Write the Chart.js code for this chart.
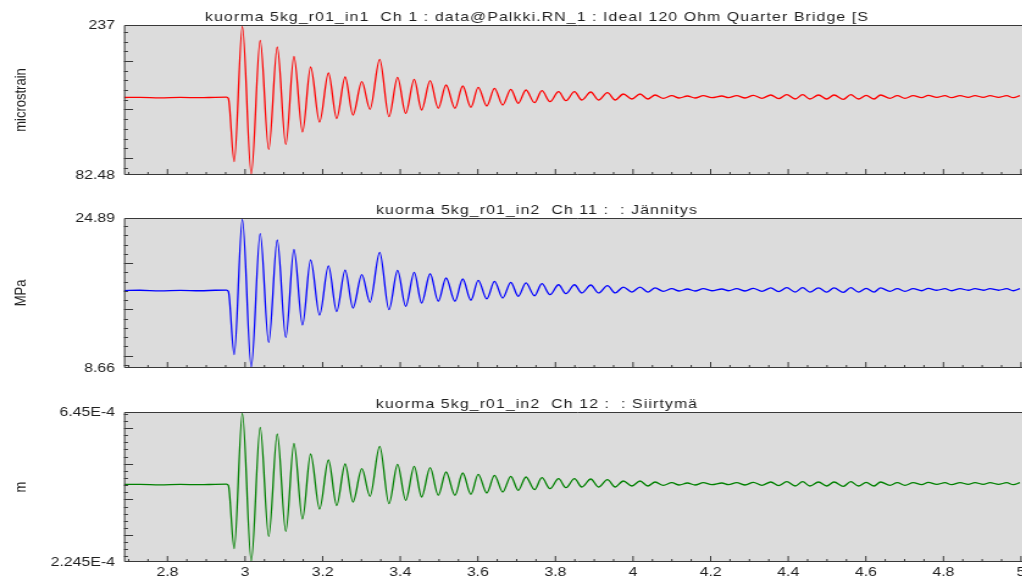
<!DOCTYPE html>
<html>
<head>
<meta charset="utf-8">
<script src="https://cdn.jsdelivr.net/npm/chart.js@4.4.1/dist/chart.umd.min.js"></script>
<style>
  html, body { margin: 0; padding: 0; background: #fff; width: 1022px; height: 580px; overflow: hidden; }
  .panel { position: absolute; left: 0; height: 193px; }
  .panel canvas { transform: scaleX(1.22); transform-origin: 0 0; }
</style>
</head>
<body>
<div class="panel" style="top:0px"><canvas id="c1" width="845" height="193"></canvas></div>
<div class="panel" style="top:193px"><canvas id="c2" width="845" height="193"></canvas></div>
<div class="panel" style="top:387px"><canvas id="c3" width="845" height="193"></canvas></div>
<script>
// time (s): quiet baseline, then one point per peak / trough
const time = [
  2.688, 2.729, 2.781, 2.833, 2.884, 2.923, 2.952, 2.957,
  2.972, 2.993, 3.016, 3.039, 3.061, 3.083, 3.105, 3.126, 3.148, 3.169,
  3.192, 3.215, 3.236, 3.258, 3.278, 3.301, 3.322, 3.347, 3.371, 3.393,
  3.414, 3.436, 3.455, 3.477, 3.498, 3.518, 3.541, 3.561, 3.582, 3.601,
  3.623, 3.643, 3.664, 3.685, 3.704, 3.724, 3.746, 3.765, 3.786, 3.808,
  3.827, 3.849, 3.868, 3.891, 3.911, 3.934, 3.954, 3.975, 3.997, 4.018,
  4.038, 4.057, 4.078, 4.100, 4.119, 4.140, 4.160, 4.181, 4.203, 4.229,
  4.246, 4.267, 4.289, 4.310, 4.332, 4.355, 4.375, 4.396, 4.418, 4.437,
  4.456, 4.478, 4.499, 4.518, 4.542, 4.561, 4.581, 4.601, 4.621, 4.638,
  4.662, 4.681, 4.701, 4.722, 4.744, 4.761, 4.783, 4.804, 4.821, 4.843,
  4.864, 4.881, 4.903, 4.920, 4.942, 4.963, 4.980, 4.997
];

// Ch 1, microstrain
const strain = [
  162.32, 162.52, 162.01, 162.42, 162.11, 162.52, 162.62, 161.29,
  96.18, 235.45, 83.51, 221.03, 108.75, 214.34, 113.90, 204.55, 126.78, 193.73,
  137.08, 187.55, 140.68, 183.43, 144.29, 178.59, 150.16, 201.67, 142.54, 183.12,
  146.04, 181.06, 149.44, 179.62, 151.19, 175.19, 151.19, 174.16, 152.22, 172.82,
  153.56, 171.79, 154.59, 170.76, 156.34, 170.04, 156.96, 169.32, 157.99, 168.29,
  159.02, 168.29, 159.74, 167.98, 159.74, 167.26, 159.74, 165.92, 160.77, 165.92,
  160.77, 164.89, 161.49, 164.17, 161.80, 163.86, 161.80, 164.17, 162.11, 163.86,
  162.11, 164.17, 161.80, 164.58, 161.49, 164.89, 161.08, 165.20, 160.77, 165.20,
  160.77, 164.89, 160.77, 164.89, 160.46, 165.20, 160.77, 164.58, 160.77, 164.89,
  161.49, 164.17, 161.49, 164.17, 162.11, 164.58, 162.52, 164.17, 162.11, 164.17,
  162.52, 164.17, 162.52, 164.17, 162.52, 164.17, 162.11, 164.17
];

// Ch 11, Jännitys (MPa)
const stress = [
  17.04, 17.07, 17.01, 17.06, 17.02, 17.07, 17.08, 16.94,
  10.10, 24.73, 8.77, 23.21, 11.42, 22.51, 11.96, 21.48, 13.31, 20.35,
  14.39, 19.70, 14.77, 19.26, 15.15, 18.76, 15.77, 21.18, 14.97, 19.23,
  15.34, 19.01, 15.69, 18.86, 15.88, 18.40, 15.88, 18.29, 15.99, 18.15,
  16.13, 18.04, 16.23, 17.93, 16.42, 17.86, 16.48, 17.78, 16.59, 17.67,
  16.70, 17.67, 16.78, 17.64, 16.78, 17.57, 16.78, 17.42, 16.88, 17.42,
  16.88, 17.32, 16.96, 17.24, 16.99, 17.21, 16.99, 17.24, 17.02, 17.21,
  17.02, 17.24, 16.99, 17.28, 16.96, 17.32, 16.92, 17.35, 16.88, 17.35,
  16.88, 17.32, 16.88, 17.32, 16.85, 17.35, 16.88, 17.28, 16.88, 17.32,
  16.96, 17.24, 16.96, 17.24, 17.02, 17.28, 17.07, 17.24, 17.02, 17.24,
  17.07, 17.24, 17.07, 17.24, 17.07, 17.24, 17.02, 17.24
];

// Ch 12, Siirtymä (m)
const displacement = [
  4.418e-4, 4.423e-4, 4.409e-4, 4.420e-4, 4.412e-4, 4.423e-4, 4.426e-4, 4.390e-4,
  2.618e-4, 6.408e-4, 2.273e-4, 6.016e-4, 2.960e-4, 5.833e-4, 3.100e-4, 5.567e-4, 3.451e-4, 5.273e-4,
  3.731e-4, 5.104e-4, 3.829e-4, 4.992e-4, 3.927e-4, 4.861e-4, 4.087e-4, 5.489e-4, 3.879e-4, 4.984e-4,
  3.975e-4, 4.928e-4, 4.067e-4, 4.889e-4, 4.115e-4, 4.768e-4, 4.115e-4, 4.740e-4, 4.143e-4, 4.704e-4,
  4.179e-4, 4.676e-4, 4.207e-4, 4.648e-4, 4.255e-4, 4.628e-4, 4.272e-4, 4.608e-4, 4.300e-4, 4.580e-4,
  4.328e-4, 4.580e-4, 4.348e-4, 4.572e-4, 4.348e-4, 4.552e-4, 4.348e-4, 4.516e-4, 4.376e-4, 4.516e-4,
  4.376e-4, 4.488e-4, 4.395e-4, 4.468e-4, 4.404e-4, 4.460e-4, 4.404e-4, 4.468e-4, 4.412e-4, 4.460e-4,
  4.412e-4, 4.468e-4, 4.404e-4, 4.479e-4, 4.395e-4, 4.488e-4, 4.384e-4, 4.496e-4, 4.376e-4, 4.496e-4,
  4.376e-4, 4.488e-4, 4.376e-4, 4.488e-4, 4.367e-4, 4.496e-4, 4.376e-4, 4.479e-4, 4.376e-4, 4.488e-4,
  4.395e-4, 4.468e-4, 4.395e-4, 4.468e-4, 4.412e-4, 4.479e-4, 4.423e-4, 4.468e-4, 4.412e-4, 4.468e-4,
  4.423e-4, 4.468e-4, 4.423e-4, 4.468e-4, 4.423e-4, 4.468e-4, 4.412e-4, 4.468e-4
];

const xRange = [2.688, 5];
const xTicks = [2.8, 3, 3.2, 3.4, 3.6, 3.8, 4, 4.2, 4.4, 4.6, 4.8, 5];

const titles = [
  'kuorma 5kg_r01_in1  Ch 1 : data@Palkki.RN_1 : Ideal 120 Ohm Quarter Bridge [S',
  'kuorma 5kg_r01_in2  Ch 11 :  : Jännitys',
  'kuorma 5kg_r01_in2  Ch 12 :  : Siirtymä'
];
const units = ['microstrain', 'MPa', 'm'];
const yRanges = [[82.48, 237], [8.66, 24.89], [2.245e-4, 6.45e-4]];
const yLabels = [['82.48', '237'], ['8.66', '24.89'], ['2.245E-4', '6.45E-4']];
const yTickSteps = [[10, 50], [1, 5], [2e-5, 1e-4]];  // minor, major

const S = 1.22; // the picture is stretched sideways, canvases get scaled by this
const FONT = '"Liberation Sans", Arial, sans-serif';

// grey plot box, frame, inner tick marks and the panel title
const framePlugin = {
  id: 'frame',
  beforeDraw(chart) {
    const { ctx, chartArea: a } = chart;
    ctx.save();
    ctx.fillStyle = '#dcdcdc';
    ctx.fillRect(a.left, a.top, chart.width - a.left, a.bottom - a.top);
    ctx.restore();
  },
  afterDraw(chart, args, o) {
    const { ctx, chartArea: a } = chart;
    const xs = chart.scales.x, ys = chart.scales.y;
    ctx.save();
    ctx.strokeStyle = '#383838';
    ctx.lineWidth = 1;
    ctx.beginPath();
    ctx.moveTo(chart.width, a.top + 0.5);
    ctx.lineTo(a.left + 0.5, a.top + 0.5);
    ctx.lineTo(a.left + 0.5, a.bottom - 0.5);
    ctx.lineTo(chart.width, a.bottom - 0.5);
    // x ticks every 0.05, longer every 0.2
    for (let k = 54; k <= 100; k++) {
      const px = xs.getPixelForValue(k * 0.05);
      if (px < a.left + 1 || px > a.right + 1) continue;
      const len = k % 4 === 0 ? 6 : 3;
      ctx.moveTo(px, a.bottom);
      ctx.lineTo(px, a.bottom - len);
    }
    // y ticks
    const [minor, major] = o.steps;
    const k0 = Math.ceil(ys.min / minor - 1e-6), k1 = Math.floor(ys.max / minor + 1e-6);
    const every = Math.round(major / minor);
    for (let k = k0; k <= k1; k++) {
      const py = Math.round(ys.getPixelForValue(k * minor)) + 0.5;
      const len = (k % every === 0 ? 9 : 4) / S;
      ctx.moveTo(a.left, py);
      ctx.lineTo(a.left + len, py);
    }
    ctx.stroke();

    ctx.fillStyle = '#1e1e1e';
    ctx.font = '13px ' + FONT;
    ctx.letterSpacing = '0.9px';
    ctx.textAlign = 'center';
    ctx.textBaseline = 'alphabetic';
    ctx.fillText(o.title, 537 / S, 20.5);
    ctx.restore();
  }
};

function makePanel(i, values, color, showX) {
  const [yMin, yMax] = yRanges[i];
  return new Chart(document.getElementById('c' + (i + 1)), {
    type: 'line',
    data: {
      datasets: [{
        data: time.map((t, j) => ({ x: t, y: values[j] })),
        borderColor: color,
        borderWidth: 1.3,
        pointRadius: 0,
        fill: false,
        cubicInterpolationMode: 'monotone'
      }]
    },
    options: {
      responsive: false,
      animation: false,
      events: [],
      layout: { padding: { top: 25, right: 8.1, left: 0, bottom: 0 } },
      plugins: {
        legend: { display: false },
        tooltip: { enabled: false },
        frame: { title: titles[i], steps: yTickSteps[i] }
      },
      scales: {
        x: {
          type: 'linear',
          min: xRange[0],
          max: xRange[1],
          grid: { display: false, drawTicks: false },
          border: { display: false },
          afterBuildTicks: s => { s.ticks = xTicks.map(v => ({ value: v })); },
          afterFit: s => { s.height = 18; },
          ticks: {
            display: showX,
            autoSkip: false,
            maxRotation: 0,
            padding: 3,
            color: '#1e1e1e',
            font: { size: 13, family: FONT },
            callback: v => String(v)
          }
        },
        y: {
          min: yMin,
          max: yMax,
          grid: { display: false, drawTicks: false },
          border: { display: false },
          afterBuildTicks: s => { s.ticks = [{ value: yMin }, { value: yMax }]; },
          afterFit: s => { s.width = 124 / S; },
          ticks: {
            padding: 7.4,
            color: '#1e1e1e',
            font: { size: 13, family: FONT },
            callback: (v, idx) => yLabels[i][idx]
          },
          title: {
            display: true,
            text: units[i],
            color: '#1e1e1e',
            font: { size: 13, family: FONT },
            padding: { top: 9.4, bottom: 0 }
          }
        }
      }
    },
    plugins: [framePlugin]
  });
}

makePanel(0, strain, '#ff0000', false);
makePanel(1, stress, '#0000ff', false);
makePanel(2, displacement, '#008000', true);
</script>
</body>
</html>
